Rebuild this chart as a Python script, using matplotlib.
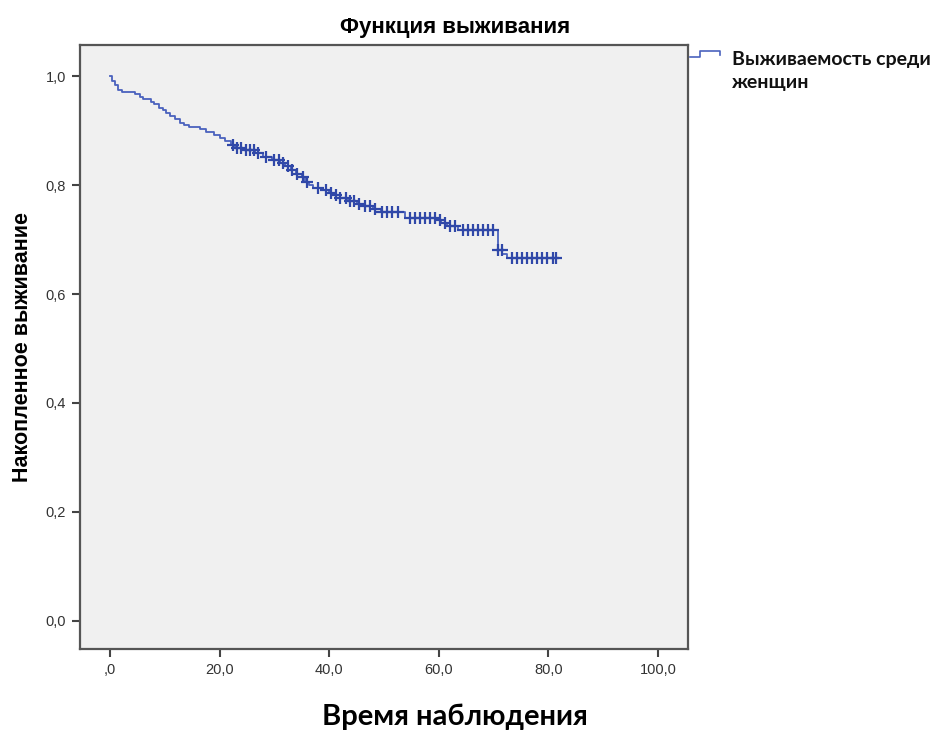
import numpy as np
import matplotlib
matplotlib.use('Agg')
import matplotlib.pyplot as plt
from matplotlib.lines import Line2D

# Kaplan-Meier steps: event times and survival after each event
event_times = [0.0, 0.3, 0.9, 1.5, 2.2, 4.5, 5.5, 6.0, 7.5, 8.0, 9.0, 9.6,
               10.2, 11.0, 11.8, 12.8, 13.5, 14.5, 16.5, 17.5, 19.0, 20.0,
               21.0, 22.0, 22.8, 24.5, 26.5, 28.0, 29.5, 31.0, 32.0, 33.0,
               34.0, 35.0, 35.6, 36.3, 37.0, 38.5, 40.0, 41.0, 42.0, 43.5,
               45.0, 46.5, 48.0, 49.5, 53.8, 59.5, 60.5, 61.5, 63.5, 70.8,
               71.6, 72.5]
survival = [1.0, 0.99, 0.983, 0.975, 0.971, 0.967, 0.962, 0.958, 0.953,
            0.949, 0.942, 0.937, 0.932, 0.926, 0.921, 0.914, 0.910, 0.906,
            0.902, 0.897, 0.892, 0.887, 0.880, 0.874, 0.868, 0.864, 0.858,
            0.852, 0.846, 0.840, 0.834, 0.828, 0.821, 0.814, 0.806, 0.800,
            0.795, 0.791, 0.786, 0.781, 0.776, 0.771, 0.766, 0.761, 0.756,
            0.751, 0.740, 0.735, 0.730, 0.725, 0.717, 0.681, 0.673, 0.666]
last_time = 81.6

# censored observations
censor_times = [22.5, 23.2, 24.0, 24.8, 25.5, 26.3, 27.0, 28.5, 30.0, 30.8,
                31.6, 32.5, 33.3, 34.2, 35.2, 36.0, 38.0, 39.5, 40.3, 41.2,
                42.0, 43.0, 43.8, 44.6, 45.5, 46.5, 47.5, 48.3, 49.6, 50.5,
                51.5, 52.6, 54.7, 55.7, 56.6, 57.5, 58.4, 59.3, 60.2, 61.1,
                62.0, 63.0, 64.4, 65.3, 66.2, 67.2, 68.1, 69.0, 69.9, 70.9,
                71.5, 73.4, 74.3, 75.2, 76.1, 77.0, 77.9, 78.8, 79.7, 80.8,
                81.4]

x_ticks = [0, 20, 40, 60, 80, 100]
x_labels = [',0', '20,0', '40,0', '60,0', '80,0', '100,0']
y_ticks = [0.0, 0.2, 0.4, 0.6, 0.8, 1.0]
y_labels = ['0,0', '0,2', '0,4', '0,6', '0,8', '1,0']

line_color = '#4a62be'
mark_color = '#3048a8'
arial = ['Liberation Sans', 'DejaVu Sans']
calibri = ['Lato', 'DejaVu Sans']

fig = plt.figure(figsize=(9.37, 7.31), dpi=100)
ax = fig.add_axes([0.0854, 0.1122, 0.6489, 0.8262])
ax.set_facecolor('#f0f0f0')

t = np.array(event_times + [last_time])
s = np.array(survival + [survival[-1]])
ax.step(t, s, where='post', color=line_color, lw=1.3)

idx = np.searchsorted(event_times, censor_times, side='right') - 1
cs = np.array(survival)[idx]
ax.plot(censor_times, cs, ls='none', marker='+', ms=9, mew=1.6,
        color=mark_color)

ax.set_xlim(-5.47, 105.5)
ax.set_ylim(-0.0514, 1.0569)
ax.set_xticks(x_ticks)
ax.set_xticklabels(x_labels)
ax.set_yticks(y_ticks)
ax.set_yticklabels(y_labels)
ax.tick_params(direction='out', length=6, width=1.5, color='#444444',
               labelsize=10.5, labelcolor='#333333', pad=4)
for lbl in ax.get_xticklabels() + ax.get_yticklabels():
    lbl.set_family(arial)
for sp in ax.spines.values():
    sp.set_color('#555555')
    sp.set_linewidth(1.6)

fig.text(0.4856, 0.962, 'Функция выживания', fontsize=16, fontweight='bold',
         family=arial, ha='center', va='center')
ax.set_ylabel('Накопленное выживание', fontsize=15.5, fontweight='bold',
              family=arial, labelpad=9)
fig.text(0.4856, 0.019, 'Время наблюдения', fontsize=21, fontweight='bold',
         family=calibri, ha='center', va='center')

# legend entry: small step glyph and wrapped label
fig.add_artist(Line2D([0.7364, 0.7471, 0.7471, 0.7684, 0.7684],
                      [0.9220, 0.9220, 0.9302, 0.9302, 0.9247],
                      transform=fig.transFigure, color=line_color, lw=1.2))
fig.text(0.781, 0.903, 'Выживаемость среди\nженщин', fontsize=14,
         fontweight='bold', family=calibri,
         va='center', ha='left', linespacing=1.45, color='#111111')

fig.savefig('out.png', dpi=100)
